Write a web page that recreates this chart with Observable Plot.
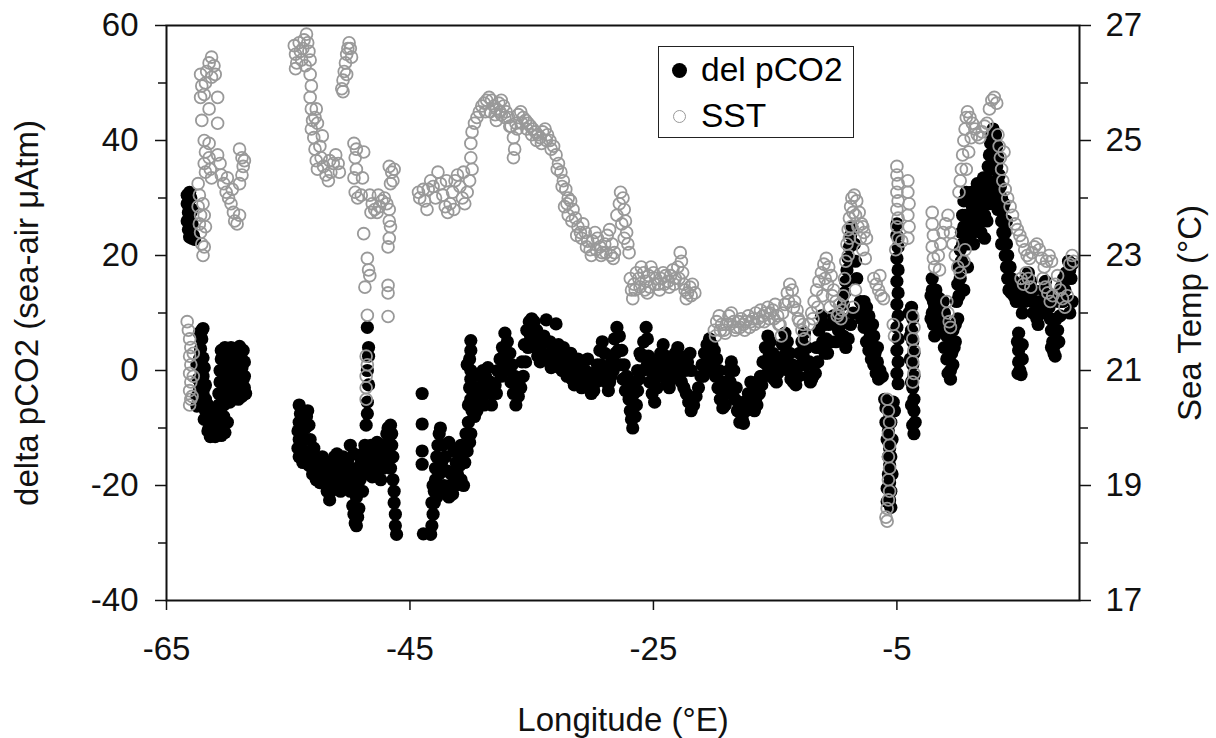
<!DOCTYPE html>
<html>
<head>
<meta charset="utf-8">
<script src="https://cdn.jsdelivr.net/npm/d3@7"></script>
<script src="https://cdn.jsdelivr.net/npm/@observablehq/plot@0.6"></script>
<style>
  html, body { margin: 0; padding: 0; background: #fff; }
  #wrap { position: relative; width: 1216px; height: 738px; font-family: "Liberation Sans", Arial, Helvetica, sans-serif; }
  #legend { position: absolute; left: 658px; top: 46px; width: 194px; height: 90px; border: 1.5px solid #222; background: #fff; }
  .mk { position: absolute; box-sizing: border-box; border-radius: 50%; }
  .lt { position: absolute; font-size: 33.5px; line-height: 34px; color: #000; white-space: nowrap; }
</style>
</head>
<body>
<div id="wrap">
  <div id="legend"></div>
</div>
<script>
// ---- data ----
// delta pCO2 (sea-air, µAtm) : [longitude °E, value]
const pco2 = [
  [-63.3,30.5],[-63.3,29],[-63.2,27.5],[-63.3,26],[-63.2,24.5],[-63.1,23.2],[-63.0,24],[-62.9,25.5],[-62.9,28],[-63.0,30],[-62.8,23.5],[-62.7,22.8],
  [-63.1,31],[-63.2,29],[-63.1,26.5],[-63.0,27.5],[-62.9,23],[-63.1,25],
  [-62.0,7.3],[-62.1,5.5],[-62.2,3.8],[-62.0,2.2],[-62.2,0.5],[-62.0,-1],[-62.2,-2.5],[-62.0,-4],[-62.2,-5.5],[-62.5,-6.2],[-61.8,-5],[-61.8,-2.5],[-62.5,-4.5],[-62.4,-1.5],[-62.5,1],
  [-62.3,6.5],[-62.1,7],[-62.3,-3.5],[-61.9,0.5],[-62.3,2],[-61.9,-3],
  [-61.8,-7],[-61.6,-8.5],[-61.5,-10],[-61.3,-11],[-61.0,-11.5],[-60.7,-10.5],[-60.5,-11.3],[-60.2,-10.8],[-60.0,-9],[-60.3,-8],[-60.6,-7.5],[-60.9,-8.8],
  [-61.6,-6],[-61.4,-8],[-61.2,-9.5],[-60.9,-10],[-60.4,-9.5],[-61.2,-7.5],[-60.8,-6.5],[-61.6,-10.5],[-61.4,-11.5],[-61.9,-8.5],
  [-60.7,-6],[-60.7,-4],[-60.6,-2],[-60.6,0],[-60.5,2],[-60.5,3.5],[-60.2,4],[-60.0,2.5],[-60.0,0.5],[-59.9,-1.5],[-59.8,-3.5],[-59.8,-5.5],[-59.5,-4],[-59.4,-2],[-59.4,0],[-59.3,2],[-59.2,3.8],[-59.0,4.2],[-58.9,2.5],[-58.8,0.5],[-58.7,-1.5],[-58.6,-3],[-58.5,-4],[-58.9,-2.5],[-59.1,-5],
  [-60.3,-6],[-60.4,-4],[-60.3,-2],[-60.3,0],[-60.2,2],[-59.7,-2],[-59.6,0],[-59.6,2],[-59.7,4],[-59.1,1],[-59.1,-1],[-59.2,-3],[-58.8,-4.5],[-58.6,-1],[-58.6,1.5],[-58.7,3.5],
  [-54.1,-6],[-54.0,-7.5],[-54.1,-9],[-54.2,-10.5],[-54.1,-12],[-54.2,-13.5],[-54.1,-15],[-53.8,-14],[-53.7,-12],[-53.6,-10],[-53.5,-8],[-53.4,-7],[-53.3,-9.5],[-53.2,-12],[-53.1,-14],[-53.0,-16],
  [-53.9,-11],[-53.9,-8],[-53.8,-16],[-53.5,-12],[-53.4,-14.5],[-53.3,-16.5],[-53.0,-18],[-52.9,-13.5],[-52.6,-15.5],[-52.4,-19.5],[-52.2,-15],[-52.0,-16],
  [-52.8,-17.5],[-52.7,-19],[-52.5,-18],[-52.3,-17],[-52.1,-17.5],[-51.9,-19],[-51.8,-21],[-51.6,-22.5],[-51.5,-21],[-51.4,-19.5],
  [-51.7,-18],[-51.3,-17.5],[-51.1,-19],[-50.9,-20],[-50.7,-21],[-50.3,-17],[-49.9,-13],
  [-51.5,-16.5],[-51.2,-15],[-51.0,-14.5],[-50.8,-16],[-50.6,-17.5],[-50.4,-19],[-50.2,-20.5],[-50.0,-19],[-49.8,-17],[-49.6,-14.5],[-50.5,-15],[-50.1,-15.5],[-49.9,-21],
  [-49.7,-23.5],[-49.6,-25],[-49.5,-26.5],[-49.4,-27],[-49.3,-25.5],[-49.2,-24],
  [-49.7,-18.5],[-49.5,-20],[-49.4,-22],[-49.3,-17],[-49.0,-16],[-48.9,-14.5],[-48.7,-13],
  [-49.1,-19],[-48.9,-21],[-48.8,-18],[-48.6,-16],[-48.4,-14],[-48.2,-13],[-48.0,-14.5],[-47.8,-16],[-47.6,-17.5],[-47.5,-15],[-47.7,-12.5],[-48.1,-18.5],
  [-48.3,-16.5],[-48.0,-17],[-47.8,-13],[-47.4,-19],[-47.3,-13],[-47.2,-17],[-47.0,-15],[-46.9,-11],[-46.8,-10],
  [-48.5,7.5],[-48.4,4],[-48.4,2.5],[-48.5,0],[-48.4,-2.5],[-48.5,-5.5],[-48.5,-7.5],[-48.6,-9.5],
  [-46.6,-9.5],[-46.5,-11],[-46.5,-13],[-46.4,-15],[-46.6,-17],[-46.4,-19],[-46.3,-21],[-46.3,-23],[-46.2,-25],[-46.2,-27],[-46.1,-28.5],[-46.8,-14],[-46.9,-16.5],[-46.7,-12.5],
  [-44.0,-4],[-44.0,-9.3],[-44.0,-14],[-44.0,-16.3],[-43.9,-28.4],
  [-43.3,-28.5],[-43.2,-27],[-43.1,-25],[-43.0,-23],[-43.0,-21],[-42.9,-19],[-42.9,-17],[-42.8,-15],[-42.7,-13],[-42.6,-11],[-42.5,-10],
  [-42.8,-22],[-42.6,-18],[-42.4,-16],[-42.2,-20],[-42.0,-21],[-41.8,-22],[-41.6,-18],[-41.2,-16],[-41.0,-14],[-40.8,-13],[-40.4,-11],[-40.2,-9],[-40.2,-6],[-43.2,-23],[-43.1,-20],
  [-42.3,-13],[-42.1,-15],[-41.9,-17.5],[-41.7,-20],[-41.5,-21.5],[-41.3,-20],[-41.1,-18],[-40.9,-16.5],[-40.7,-15.5],[-40.5,-16],[-40.3,-14],[-40.1,-12.5],[-40.0,-11],[-41.8,-12.5],[-41.4,-14],[-40.8,-19],[-40.6,-20],
  [-40.0,5.2],[-40.0,3.5],[-40.1,2],[-40.0,0],[-40.0,-1.5],[-40.1,-3],[-40.0,-5],[-39.9,-7],[-39.7,-8],[-39.5,-7],[-39.3,-6],
  [-40.3,1],[-39.8,-4],[-39.6,-5.5],[-39.4,-3],[-39.2,-1],[-39.0,0],
  [-39.1,-5],[-38.9,-3],[-38.8,-1],[-38.6,0.5],[-38.4,-2],[-38.2,-4],[-38.0,-2.5],[-37.8,0],[-37.6,2],[-37.4,4],[-37.2,6.5],[-37.0,5],[-36.8,3],[-36.6,1],[-36.4,-1],[-36.2,-3.5],[-36.0,-1.5],[-35.8,1.5],[-35.6,4.5],[-35.4,7],[-35.2,8.5],[-35.0,9],[-34.8,8.5],[-34.6,7],[-34.4,5.5],[-34.2,4.8],[-34.0,6],[-33.8,8.8],
  [-38.9,-6],[-38.6,-4],[-38.3,-6],[-37.9,-4],[-37.5,-1],[-37.3,1.5],[-37.1,2.5],[-36.9,0],[-36.7,-2],[-36.5,-4],[-36.3,-6],[-36.1,-4.5],[-35.9,-3],[-35.7,-1],[-35.5,1.5],[-35.3,4],[-35.1,6],[-34.9,5.5],[-34.7,4],[-34.5,2.5],[-34.3,1.5],[-34.1,3],[-33.9,5],
  [-33.5,5],[-33.3,3.5],[-33.0,8.1],[-32.8,4.5],[-32.6,3],[-32.4,4],[-32.2,2.5],[-32.0,1.5],[-31.8,3],[-31.6,1],[-31.4,-0.5],[-31.2,2],[-31.0,0.5],[-30.8,-1.5],[-30.6,0],[-30.4,2],[-30.2,-0.5],[-30.0,-2.5],[-29.8,-1],[-29.6,1],[-29.4,3.5],[-29.2,5],[-29.0,3],[-28.8,0],[-28.6,-2],[-28.4,2],[-28.2,5.5],[-28.0,7.5],[-27.8,6],[-27.6,3.5],[-27.4,1],[-27.2,-1],[-27.1,-3],[-27.0,-5],[-26.9,-7],[-26.8,-8.5],[-26.7,-10],[-26.5,-8],[-26.4,-6],[-26.3,-3.5],[-26.2,-1.5],
  [-33.6,2],[-33.4,0.5],[-33.2,1.5],[-32.9,2],[-32.7,0.5],[-32.5,0],[-32.3,0.5],[-32.1,-1],[-31.9,0],[-31.7,-1.5],[-31.5,-2.5],[-31.3,-1],[-31.1,-2],[-30.9,-3],[-30.7,-2.5],[-30.5,-1.5],[-30.3,-3],[-30.1,-4],[-29.9,-3.5],[-29.7,-2],[-29.5,-0.5],[-29.3,1],[-29.1,0.5],[-28.9,-2],[-28.7,-3.5],[-28.5,-1],[-28.3,0],[-28.1,3],[-27.9,3.5],[-27.7,1],[-27.5,-1.5],[-27.3,-3.5],[-26.6,-4],[-26.5,-2],[-26.3,0],[-26.1,3],
  [-26.0,2.5],[-25.8,5],[-25.6,7.5],[-25.5,5.5],[-25.4,2.5],[-25.2,0],[-25.0,-2],[-24.8,-1],[-24.6,1.5],[-24.4,3],[-24.2,4.5],[-24.0,2.5],[-23.8,0.5],[-23.6,-0.5],[-23.4,1.5],[-23.2,3],[-23.0,4],[-22.8,2.5],[-22.6,1],[-22.4,0],[-22.2,1.5],[-22.0,3],[-21.9,0],
  [-25.9,0],[-25.7,2.5],[-25.5,1],[-25.3,-2],[-25.1,-4],[-24.9,-5.5],[-24.7,-3],[-24.5,-1],[-24.3,0.5],[-24.1,-0.5],[-23.9,-2],[-23.7,-3],[-23.5,-1.5],[-23.3,-0.5],[-23.1,0.5],[-22.9,-0.5],[-22.7,-2],[-22.5,-3],
  [-22.3,-4],[-22.1,-5.5],[-21.9,-7],[-21.7,-6],[-21.5,-4.5],[-21.3,-3],[-21.1,-1],
  [-21.0,1],[-20.8,3],[-20.6,4.5],[-20.4,5.5],[-20.2,4.5],[-20.0,3.5],[-19.8,2],[-19.6,0],[-19.4,-2],[-19.2,-4],
  [-20.9,-1],[-20.7,1],[-20.5,2],[-20.3,1.5],[-20.1,0],[-19.9,-1],[-19.7,-3],[-19.5,-5],[-19.3,-6.5],[-19.1,-6],[-18.9,-4],[-18.7,-2],[-18.5,-3],[-18.3,-5],[-18.1,-7],[-17.9,-9],[-17.7,-8.5],[-17.5,-5.5],[-17.3,-6],[-17.1,-5],[-16.9,-6],[-16.7,-7],[-16.5,-6],[-16.3,-4],[-16.1,-2.5],
  [-19.0,-2],[-18.8,0],[-18.6,1.5],[-18.4,0],[-18.2,-3],[-18.0,-5.5],[-17.8,-7],[-17.6,-9.2],[-17.4,-7],[-17.2,-4],[-17.0,-2],[-16.8,-3.5],[-16.6,-5],[-16.4,-3],[-16.2,-1],
  [-16.0,1.5],[-15.8,4],[-15.6,6],[-15.4,5],[-15.2,3],[-15.0,1],[-14.8,-0.5],[-14.6,2],[-14.4,4.5],[-14.2,6.5],
  [-15.9,-1],[-15.7,1],[-15.5,2.5],[-15.3,0.5],[-15.1,-1.5],[-14.9,-2],[-14.7,0],[-14.5,1.5],[-14.3,2.5],[-14.1,1.5],[-13.9,0],[-13.7,-1.5],[-13.5,-2],[-13.3,-2.5],[-13.1,-1],[-12.9,1],[-12.7,2.5],[-12.5,1],[-12.3,-1],[-12.1,-2],[-11.9,-1],[-11.7,-0.5],[-11.5,1.5],[-11.3,4],[-11.1,5],[-10.9,3],[-10.7,3],[-10.4,5],[-10.0,5],[-9.9,9.5],
  [-14.0,5],[-13.8,3],[-13.6,1],[-13.4,-1],[-13.2,0.5],[-13.0,3],[-12.8,5],[-12.6,6.5],[-12.4,4],[-12.2,1.5],[-12.0,-1.5],[-11.8,1],[-11.6,4],[-11.4,7],[-11.2,9.5],[-11.0,8],[-10.8,5.5],
  [-10.6,8],[-10.2,9.5],[-9.8,7],[-9.6,8],[-9.4,6],[-9.2,4],[-9.0,5.5],[-8.8,8],[-8.6,10],
  [-9.5,9],[-9.4,11.5],[-9.3,13.5],[-9.2,15.5],[-9.1,17.5],[-9.0,19.5],[-8.9,21.5],[-8.8,23.5],[-8.7,25],[-8.5,22],[-8.4,19],[-8.3,16],
  [-8.0,12],[-7.8,10.5],[-7.6,9],[-7.4,7.5],[-7.2,6],[-7.0,4.5],[-6.8,3],[-6.6,1.5],[-6.4,0],[-6.2,-1],[-7.5,11],[-7.0,8],
  [-7.9,9],[-7.7,7.5],[-7.5,5],[-7.3,3.5],[-7.1,2],[-6.9,1],[-6.7,-0.5],[-6.5,-1.5],[-7.7,12],[-7.3,9.5],[-6.9,6],[-6.6,4],
  [-6.0,-5],[-5.8,-6],[-5.6,-7.5],[-5.9,-9],[-5.7,-10.5],[-5.8,-12],[-5.6,-13.5],[-5.7,-15],[-5.6,-16.5],[-5.7,-18],[-5.6,-19.5],[-5.5,-21],[-5.6,-22.5],[-5.5,-23.8],[-5.3,-5.5],[-5.2,-7],
  [-5.9,-6.5],[-5.5,-9],[-5.4,-12],[-5.5,-15],[-5.4,-18],[-5.8,-20.5],[-5.8,-22.8],
  [-5.0,25.5],[-5.0,23.5],[-4.9,21.5],[-5.0,19.5],[-4.9,17.5],[-5.0,15.5],[-4.9,13.5],[-5.0,11.5],[-4.9,9.5],[-5.0,7.5],[-4.9,5.5],[-5.0,3.5],[-4.9,1.5],[-5.0,-0.5],[-4.9,-2.3],
  [-3.8,11],[-3.7,9],[-3.8,7],[-3.7,5],[-3.6,3],[-3.7,1],[-3.6,-1],[-3.7,-3],[-3.6,-5],[-3.6,-7],[-3.5,-9],[-3.6,-11],
  [-4.0,10],[-3.9,6],[-3.9,2],[-3.8,-2],[-3.8,-6],[-3.7,-9.5],
  [-2.1,16],[-2.1,14],[-2.0,12],[-2.1,10],[-2.0,8],[-1.9,6],[-1.6,8],[-1.4,10],[-1.2,12],[-1.1,10],[-1.0,8],[-0.9,6],[-0.8,4],[-0.7,2],[-0.6,0],[-0.6,-1.5],[-0.4,1],[-0.3,4],[-0.2,8],[-0.1,12],[0.0,15],[0.1,18],[0.2,21],[0.3,24],[0.4,27],[0.5,29.5],[0.7,31],[0.9,30],[0.6,22],[0.8,18],[0.5,14],[-0.4,7],
  [-2.2,13],[-2.2,9],[-1.9,11],[-1.8,14],[-1.7,10],[-1.5,12.5],[-1.3,7],[-1.1,4],[-0.9,2],[-0.8,-0.5],[-0.5,3],[-0.2,5],[0.0,9],[0.1,13],[0.2,16],[0.3,19],[0.4,22],[0.5,25],[0.6,27],[0.7,24],[0.8,26],[0.9,22],[1.0,27],
  [1.1,31],[1.3,29],[1.5,27.5],[1.7,30],[1.9,32],[2.1,31],[2.3,29],[1.2,24],[1.6,25],[2.0,26],[2.3,33.5],[2.5,35.5],[2.6,37.5],[2.7,39.5],[2.8,41],[2.9,42],[3.0,40],
  [1.1,26],[1.2,28.5],[1.3,22],[1.4,25],[1.5,30.5],[1.6,32.5],[1.7,26],[1.8,28],[1.9,24],[2.0,29],[2.1,33.5],[2.2,27],[2.2,23],[2.4,31],[2.4,26],[2.5,33],[2.6,29],[2.7,35],[2.8,32],[2.9,37],[3.0,35],[3.1,41],[3.0,30],[3.2,39],[3.1,32],
  [3.1,38],[3.2,35.5],[3.3,33],[3.4,30.5],[3.5,28],[3.6,26],[3.7,24],[3.8,22],[3.9,20],[4.0,18],[4.1,16],[4.2,14],[4.4,13.5],[4.6,13],[4.8,14],[3.3,28],[3.6,22],[4.3,18],
  [3.3,37],[3.4,34],[3.5,32],[3.6,30],[3.7,28],[3.8,26],[3.9,24],[4.0,22],[4.1,20],[4.2,18],[4.3,16],[4.4,16],[4.5,15],[4.6,15.5],[4.7,14.5],[4.8,12],[4.9,13],[4.0,26],[3.8,29],
  [4.9,5],[5.0,3.5],[5.0,1.5],[5.1,0],[5.2,-0.7],[5.3,2],[5.3,4.5],[5.0,6.5],[4.95,-0.5],
  [5.2,12],[5.4,14],[5.6,16],[5.8,17],[6.0,15.5],[6.2,14],[6.4,12],[6.6,10.5],[6.8,12],[7.0,14],[7.2,15.5],[7.4,13],[7.5,11],[7.6,9],[7.7,7],[7.8,5],[7.9,3],[8.0,4.5],[8.2,7],[8.4,9.5],[8.6,12],[8.8,14],[9.0,16],[9.2,17.5],[9.4,18.5],[6.2,10],[6.5,9],
  [5.3,10],[5.5,12],[5.7,14],[5.9,13],[6.1,12],[6.3,10],[6.6,8],[6.9,10],[7.1,11.5],[7.3,11],[7.6,13],[7.9,7],[8.1,9],[8.3,12],[8.5,14.5],[8.7,16],[8.9,17],[9.1,19],[9.3,16],[9.4,12],[9.2,10],[8.0,2.5],[8.3,5],[7.7,4]
];

// Sea surface temperature (°C) : [longitude °E, value]
const sst = [
  [-63.3,21.85],[-63.2,21.7],[-63.1,21.55],[-63.0,21.4],[-63.1,21.25],[-63.0,21.1],[-63.1,20.95],[-63.0,20.8],[-63.1,20.65],[-63.0,20.5],[-63.1,20.4],[-62.8,21.3],[-62.8,20.9],[-62.9,20.55],
  [-62.4,24.25],[-62.3,24.05],[-62.4,23.85],[-62.2,23.7],[-62.3,23.55],[-62.2,23.4],[-62.1,23.2],[-62.0,23.0],[-61.9,23.15],[-61.8,23.5],[-61.9,23.7],[-62.0,23.9],
  [-62.2,26.15],[-62.1,25.95],[-62.2,25.75],[-61.9,25.8],[-61.8,26.0],[-61.7,26.2],[-61.5,26.35],[-61.3,26.45],[-61.1,26.3],[-61.0,26.15],[-61.3,26.1],[-62.1,25.35],[-61.5,25.55],[-60.8,25.75],[-60.8,25.3],
  [-61.9,25.0],[-61.8,24.8],[-61.9,24.6],[-61.8,24.45],[-61.5,24.95],[-61.5,24.7],[-61.4,24.5],[-61.3,24.35],
  [-60.8,24.75],[-60.6,24.6],[-60.5,24.4],[-60.3,24.25],[-60.1,24.1],[-59.9,24.0],[-59.7,23.9],[-59.5,23.75],[-59.4,23.6],[-59.2,23.55],[-59.0,23.7],[-60.0,24.35],[-59.6,24.15],
  [-59.0,24.85],[-58.8,24.7],[-58.7,24.55],[-58.8,24.4],[-58.6,24.65],[-59.0,24.25],
  [-54.5,26.65],[-54.4,26.5],[-54.3,26.35],[-54.4,26.25],[-54.1,26.7],[-54.0,26.55],[-53.9,26.4],[-53.7,26.75],[-53.5,26.85],[-53.4,26.7],[-53.3,26.55],[-53.2,26.4],[-53.6,26.3],[-53.8,26.6],
  [-53.2,26.15],[-53.1,25.95],[-53.2,25.75],[-53.1,25.55],[-53.0,25.35],[-53.1,25.2],[-52.8,25.4],[-52.7,25.55],[-52.6,25.3],
  [-52.9,25.05],[-52.8,24.85],[-52.7,24.65],[-52.6,24.5],[-52.4,24.9],[-52.3,24.7],[-52.1,24.55],[-51.9,24.4],[-51.7,24.3],[-51.5,24.45],[-51.3,24.6],[-51.1,24.75],[-50.9,24.6],[-50.8,24.45],[-51.6,24.65],[-52.2,25.08],
  [-50.6,25.9],[-50.5,26.05],[-50.4,26.2],[-50.3,26.35],[-50.2,26.5],[-50.1,26.6],[-50.0,26.7],[-49.9,26.6],[-49.8,26.45],[-50.5,25.85],[-50.2,26.15],
  [-49.6,24.95],[-49.4,24.85],[-49.5,24.7],[-49.4,24.5],[-49.6,24.35],[-49.5,24.1],[-49.3,24.0],[-49.0,24.05],[-48.9,24.35],[-48.8,24.8],
  [-48.8,23.38],[-48.5,22.95],[-48.4,22.75],[-48.3,22.65],[-48.7,22.45],[-48.5,21.96],[-48.6,21.25],[-48.5,21.1],[-48.6,20.9],[-48.6,20.7],[-48.6,20.5],
  [-46.8,21.94],[-46.8,22.35],[-46.8,22.48],[-46.8,23.15],[-46.7,23.3],[-46.6,23.5],[-46.7,23.6],
  [-48.3,24.05],[-48.1,23.9],[-47.9,23.8],[-47.7,23.75],[-47.5,23.85],[-47.3,23.95],[-47.1,24.0],[-46.9,23.9],[-46.7,23.8],[-47.6,24.05],[-48.2,23.75],
  [-46.7,24.55],[-46.5,24.45],[-46.4,24.3],[-46.6,24.25],[-46.3,24.5],
  [-44.3,24.1],[-44.2,24.0],[-43.9,24.15],[-43.8,23.95],[-43.6,23.8],[-43.5,24.15],[-43.3,24.3],[-43.1,24.2],[-42.9,24.0],
  [-42.7,24.45],[-42.5,24.25],[-42.3,24.05],[-42.1,23.85],[-41.9,23.75],[-41.7,23.9],[-41.5,24.1],[-41.3,24.3],[-41.1,24.4],[-40.9,24.2],[-40.7,24.0],[-40.5,23.9],[-40.3,24.1],[-40.1,24.3],[-39.9,24.5],[-42.0,24.3],[-41.4,23.8],[-40.6,24.45],
  [-40.0,24.7],[-40.0,24.95],[-39.9,25.15],[-39.7,25.3],[-39.5,25.4],[-39.3,25.5],[-39.1,25.6],
  [-38.9,25.65],[-38.7,25.7],[-38.5,25.75],[-38.3,25.7],[-38.1,25.6],[-37.9,25.55],[-37.7,25.65],[-37.5,25.7],[-37.3,25.6],[-37.1,25.5],[-36.9,25.4],[-36.7,25.25],[-36.5,25.05],[-36.4,24.85],[-36.5,24.7],[-36.3,25.3],[-36.1,25.45],[-35.9,25.5],[-35.7,25.4],[-35.5,25.35],[-35.3,25.3],[-35.1,25.25],[-34.9,25.2],[-34.7,25.15],[-34.5,25.1],[-34.3,25.05],[-34.1,25.15],[-33.9,25.2],[-33.7,25.1],[-33.5,25.0],[-37.9,25.35],[-37.5,25.45],
  [-38.8,25.5],[-38.4,25.5],[-38.0,25.45],[-37.6,25.5],[-37.2,25.4],[-36.8,25.25],[-36.2,25.2],[-35.8,25.3],[-35.4,25.2],[-35.0,25.1],[-34.6,25.0],[-34.2,24.95],[-33.8,25.0],[-33.4,24.85],
  [-33.2,24.9],[-33.0,24.75],[-32.8,24.6],[-32.6,24.45],[-32.4,24.3],[-32.2,24.15],[-32.0,24.0],[-32.3,23.85],[-32.0,23.7],[-31.8,23.95],[-31.6,23.8],[-31.4,23.65],[-31.2,23.5],[-31.0,23.4],[-30.8,23.55],[-30.6,23.4],[-30.4,23.25],[-30.2,23.1],[-30.0,23.25],[-29.8,23.4],[-29.6,23.3],[-29.4,23.15],[-29.2,23.05],[-29.0,23.2],[-28.8,23.35],[-28.6,23.45],[-28.4,23.2],[-28.2,23.05],
  [-32.9,24.5],[-32.5,24.2],[-32.1,23.9],[-31.7,23.6],[-31.3,23.35],[-30.9,23.3],[-30.5,23.15],[-30.1,23.0],[-29.7,23.1],[-29.3,23.0],[-28.9,23.05],[-28.5,23.0],[-28.3,22.95],
  [-28.0,23.7],[-27.8,23.9],[-27.7,24.1],[-27.5,24.0],[-27.4,23.8],[-27.3,23.6],[-27.2,23.4],[-27.1,23.2],[-27.0,23.05],[-27.6,23.55],[-27.4,23.3],
  [-26.9,22.6],[-26.8,22.4],[-26.7,22.25],[-26.6,22.5],[-26.4,22.7],[-26.2,22.6],[-26.0,22.8],[-25.8,22.7],[-25.6,22.55],[-25.4,22.65],[-25.2,22.8],[-25.0,22.7],[-24.8,22.6],[-24.6,22.5],[-24.4,22.6],[-24.2,22.7],[-24.0,22.65],[-23.8,22.55],[-23.6,22.65],[-23.4,22.75],[-23.2,22.6],[-23.0,22.8],[-22.8,23.05],[-22.7,22.9],[-22.6,22.7],[-22.5,22.5],[-22.4,22.4],[-22.2,22.35],[-22.0,22.45],[-21.8,22.5],[-21.6,22.35],[-25.5,22.35],
  [-26.5,22.4],[-26.1,22.45],[-25.7,22.4],[-25.3,22.45],[-24.9,22.5],[-24.5,22.4],[-24.1,22.5],[-23.7,22.45],[-23.3,22.5],[-22.9,22.6],[-22.3,22.25],[-21.9,22.3],
  [-20.0,21.7],[-19.8,21.85],[-19.6,21.95],[-19.4,21.8],[-19.2,21.7],[-19.0,21.8],[-18.8,21.95],[-18.6,22.0],[-18.4,21.85],[-18.2,21.75],[-18.0,21.85],[-17.8,21.9],[-17.6,21.8],[-17.4,21.85],[-17.2,21.95],[-17.0,21.85],[-16.8,21.9],[-16.6,22.0],[-16.4,21.9],[-16.2,22.05],[-16.0,21.95],[-15.8,22.0],[-15.6,22.1],[-15.4,22.0],[-15.2,22.05],[-15.0,22.15],[-14.8,21.95],[-14.6,21.8],[-14.5,21.6],[-14.4,22.0],[-14.2,22.15],[-14.0,22.35],[-13.8,22.5],[-13.6,22.4],[-13.4,22.2],[-13.2,22.05],[-13.0,21.85],[-12.8,21.7],[-12.6,21.55],
  [-19.9,21.6],[-19.5,21.7],[-19.1,21.65],[-18.7,21.8],[-18.3,21.7],[-17.9,21.75],[-17.5,21.7],[-17.1,21.75],[-16.7,21.8],[-16.3,21.85],[-15.9,21.85],[-15.5,21.9],[-15.1,21.9],[-14.7,21.8],[-13.9,22.2],[-13.5,22.1],[-13.1,21.9],[-12.7,21.8],
  [-12.2,21.8],[-12.0,22.0],[-11.8,22.2],[-11.6,22.4],[-11.4,22.55],[-11.2,22.7],[-11.0,22.85],[-10.8,22.95],[-10.6,22.8],[-10.4,22.65],[-10.2,22.4],[-10.0,22.2],[-9.8,22.0],[-9.6,21.9],[-10.5,22.1],[-9.4,22.3],[-9.3,22.6],[-9.2,22.9],[-9.1,23.2],[-9.0,23.45],[-8.9,23.65],[-8.8,23.85],[-8.7,24.0],[-8.5,24.05],[-8.3,23.95],[-8.1,23.75],[-7.9,23.55],[-7.7,23.4],[-7.5,23.3],[-7.8,23.1],[-7.6,22.95],[-8.4,22.4],[-8.6,22.1],
  [-11.9,21.9],[-11.5,22.1],[-11.1,22.3],[-10.9,22.6],[-10.7,22.5],[-10.3,22.3],[-9.9,21.95],[-9.7,22.15],[-9.5,22.05],[-9.0,23.0],[-8.9,23.3],[-8.8,23.5],[-8.6,23.75],[-8.4,23.7],[-8.2,23.5],[-8.0,23.3],[-7.8,23.5],
  [-6.9,22.6],[-6.7,22.5],[-6.5,22.4],[-6.3,22.3],[-6.1,22.25],[-6.4,22.65],
  [-5.0,24.55],[-5.0,24.4],[-4.9,24.25],[-5.0,24.1],[-4.9,23.95],[-5.0,23.8],[-4.9,23.65],[-5.0,23.5],[-4.9,23.3],[-5.1,23.1],[-4.6,23.25],[-4.1,24.3],[-4.1,24.1],[-4.0,23.9],[-4.1,23.7],[-4.0,23.5],[-4.1,23.3],
  [-5.3,21.8],[-5.2,21.6],[-3.7,21.95],[-3.6,21.75],[-3.7,21.55],[-3.6,21.35],[-3.7,21.15],[-3.6,20.95],[-3.7,20.8],
  [-5.8,20.5],[-5.7,20.3],[-5.6,20.1],[-5.7,19.9],[-5.6,19.7],[-5.7,19.5],[-5.6,19.3],[-5.7,19.1],[-5.6,18.9],[-5.7,18.75],[-5.8,18.6],[-5.9,18.45],[-5.8,18.38],
  [-2.1,23.75],[-2.1,23.55],[-2.0,23.35],[-2.1,23.15],[-2.0,22.95],[-1.9,22.8],[-1.6,23.0],[-1.4,23.2],[-1.2,23.4],[-1.0,23.55],[-0.8,23.7],[-0.6,23.4],[-0.4,23.2],[-0.2,23.0],[0.0,22.8],[0.2,22.7],[0.5,22.9],[0.6,23.1],[-1.5,22.75],
  [-0.9,22.2],[-0.8,22.0],[-0.7,21.85],[-0.6,21.75],
  [0.1,24.1],[0.2,24.3],[0.3,24.5],[0.4,24.75],[0.5,25.0],[0.6,25.2],[0.7,25.4],[0.8,25.5],[1.0,25.4],[1.2,25.3],[1.4,25.2],[1.6,25.1],[1.8,25.05],[2.0,25.15],[2.2,25.25],[2.4,25.3],[2.6,25.55],[2.8,25.7],[3.0,25.75],[3.2,25.65],[3.3,25.1],[3.4,24.9],[3.5,24.7],[3.6,24.5],[3.7,24.3],[3.9,24.15],[4.1,24.0],[4.3,23.85],[4.5,23.7],[4.7,23.55],[4.9,23.45],[5.1,23.35],[5.3,23.25],[5.5,23.1],[5.7,23.0],[5.9,22.95],[6.1,23.05],[6.3,23.15],[6.5,23.2],[6.7,23.1],[6.9,22.95],[7.1,22.8],[7.3,22.9],[7.5,23.0],[7.7,22.9],[0.9,24.8],[0.7,24.5],[1.1,25.05],[3.8,24.8],
  [5.2,22.6],[5.4,22.5],[5.6,22.7],[5.8,22.6],[6.0,22.45],[7.0,22.6],[7.2,22.45],[7.4,22.35],[7.6,22.2],[7.8,22.3],[8.0,22.5],[8.2,22.65],[8.4,22.4],[8.6,22.25],[8.8,22.1],[9.0,22.3],[9.2,22.85],[9.4,23.0],[9.5,22.9]
];

// axis ticks
const lonTicks = [-65, -45, -25, -5];
const delTicks = [-40, -20, 0, 20, 40, 60];
const delMinor = [-30, -10, 10, 30, 50];
const sstTicks = [17, 19, 21, 23, 25, 27];
const sstMinor = [18, 20, 22, 24, 26];
const seriesNames = ["del pCO2", "SST"];

// SST shares the left scale: 17–27 °C spans -40–60 µAtm
const toY = t => (t - 21) * 10;
const fromY = v => Math.round(21 + v / 10);

const font = "'Liberation Sans', Arial, Helvetica, sans-serif";

const chart = Plot.plot({
  width: 1216,
  height: 738,
  marginLeft: 166,
  marginRight: 137,
  marginTop: 25,
  marginBottom: 138,
  x: {domain: [-65, 10]},
  y: {domain: [-40, 60]},
  style: {fontFamily: font, color: "#111", background: "#fff", overflow: "visible"},
  marks: [
    Plot.dot(pco2, {x: d => d[0], y: d => d[1], r: 6.6, fill: "#000", stroke: "none"}),
    Plot.dot(sst, {x: d => d[0], y: d => toY(d[1]), r: 5.9, fill: "none", stroke: "#999", strokeWidth: 1.8}),
    Plot.frame({stroke: "#111", strokeWidth: 2}),
    Plot.axisY({ticks: delTicks, tickSize: 11, tickPadding: 17, tickFormat: d => String(d), fontSize: 33, strokeWidth: 1.5,
      label: "delta pCO2 (sea-air μAtm)", labelAnchor: "center", labelOffset: 152, labelArrow: "none"}),
    Plot.axisY({ticks: delMinor, tickSize: 8, tickFormat: () => "", strokeWidth: 1.5, label: null}),
    Plot.axisY({anchor: "right", ticks: sstTicks.map(toY), tickSize: 11, tickPadding: 15, tickFormat: d => String(fromY(d)), fontSize: 33, strokeWidth: 1.5,
      label: "Sea Temp (°C)", labelAnchor: "center", labelOffset: 121, labelArrow: "none"}),
    Plot.axisY({anchor: "right", ticks: sstMinor.map(toY), tickSize: 8, tickFormat: () => "", strokeWidth: 1.5, label: null}),
    Plot.axisX({ticks: lonTicks, tickSize: 10, tickPadding: 26, tickFormat: d => String(d), fontSize: 33, strokeWidth: 1.5,
      label: "Longitude (°E)", labelAnchor: "center", labelOffset: 130, labelArrow: "none"})
  ]
});

const wrap = document.getElementById("wrap");
wrap.insertBefore(chart, wrap.firstChild);

// legend (HTML, placed over the plot frame)
const legend = document.getElementById("legend");
const items = [
  {name: seriesNames[0], mk: "left:13px;top:16px;width:15px;height:15px;background:#000;"},
  {name: seriesNames[1], mk: "left:14px;top:63px;width:13px;height:13px;border:1.5px solid #999;background:#fff;"}
];
items.forEach((it, i) => {
  const m = document.createElement("div");
  m.className = "mk";
  m.setAttribute("style", it.mk);
  legend.appendChild(m);
  const t = document.createElement("div");
  t.className = "lt";
  t.style.left = "42px";
  t.style.top = (i === 0 ? 6 : 52) + "px";
  t.textContent = it.name;
  legend.appendChild(t);
});
</script>
</body>
</html>
